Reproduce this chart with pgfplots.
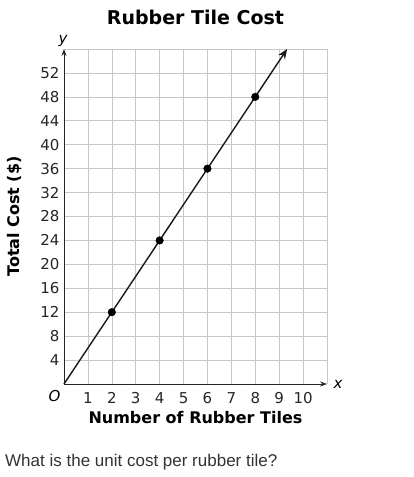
\documentclass[border=0pt]{standalone}
\usepackage{pgfplots}
\pgfplotsset{compat=1.18}
\usepackage{fontspec}
\setmainfont{DejaVu Sans}
\newfontfamily\qfont{Liberation Sans}
\usetikzlibrary{arrows.meta}

\begin{document}
\begin{tikzpicture}[x=1pt,y=1pt]
\path[use as bounding box] (-64,-93) rectangle (349,384);
\begin{axis}[
  at={(0,0)}, anchor=origin,
  scale only axis, width=263pt, height=335pt,
  xmin=0, xmax=11, ymin=0, ymax=56,
  axis lines=left,
  axis line style={black!85, line width=0.9pt, -{Stealth[length=7pt,width=5pt]}},
  xtick={1,...,11}, xticklabels={1,2,3,4,5,6,7,8,9,10,{}},
  ytick={4,8,...,56}, yticklabels={4,8,12,16,20,24,28,32,36,40,44,48,52,{}},
  major tick length=0pt,
  grid=major, grid style={black!22, line width=0.6pt},
  ticklabel style={font=\fontsize{15}{16}\selectfont, text=black!85},
  xticklabel style={yshift=-5pt},
  yticklabel style={xshift=-1pt},
  /pgf/number format/assume math mode=true,
  clip=false,
  title={Rubber Tile Cost},
  title style={font=\fontsize{19}{22}\selectfont\bfseries, at={(0.5,1)}, yshift=15pt},
  xlabel={Number of Rubber Tiles},
  xlabel style={font=\fontsize{16}{18}\selectfont\bfseries, yshift=-1pt},
  ylabel={Total Cost (\$)},
  ylabel style={font=\fontsize{16}{18}\selectfont\bfseries, yshift=12pt},
]
\addplot[black!90, line width=1.4pt, -{Stealth[length=10pt,width=8pt]}] coordinates {(0,0) (9.333,56)};
\addplot[only marks, mark=*, mark size=3.8pt, black] coordinates {(2,12) (4,24) (6,36) (8,48)};
\node[font=\fontsize{15}{16}\selectfont\itshape, anchor=north east] at (axis cs:0,0) [xshift=0pt,yshift=-3pt] {O};
\node[font=\fontsize{15}{16}\selectfont\itshape, anchor=west] at (axis cs:11,0) [xshift=3pt] {x};
\node[font=\fontsize{15}{16}\selectfont\itshape, anchor=south] at (axis cs:0,56) [xshift=-1pt,yshift=-1pt] {y};
\end{axis}
\node[anchor=west, inner sep=0pt, font=\qfont\fontsize{17}{19}\selectfont, text=black!80] at (-59,-78) {What is the unit cost per rubber tile?};
\end{tikzpicture}
\end{document}
